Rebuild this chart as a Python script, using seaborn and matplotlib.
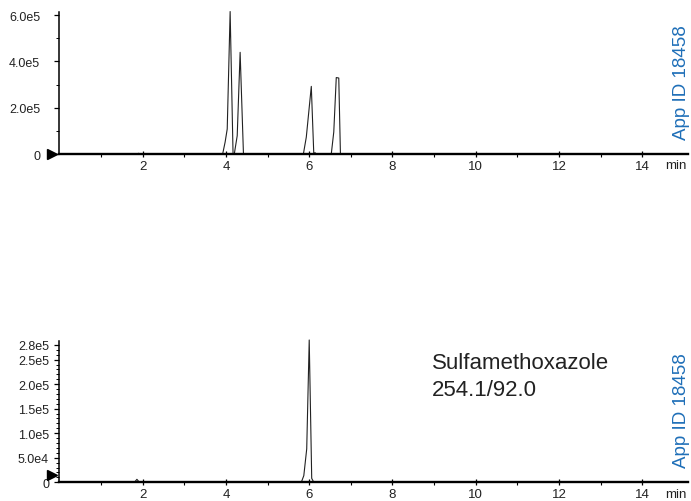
import numpy as np
import seaborn as sns
import matplotlib.pyplot as plt
from matplotlib.ticker import MultipleLocator, FixedLocator, FuncFormatter
from matplotlib import font_manager

# top panel: overlaid MRM traces (time in min, intensity in counts)
top_time = [0.0, 1.86, 1.90, 1.94, 3.92, 3.98, 4.03, 4.10, 4.17,
            4.20, 4.27, 4.34, 4.42, 5.86, 5.93, 6.05, 6.11,
            6.12, 6.14, 6.16, 6.53, 6.59, 6.65, 6.71, 6.75, 15.1]
top_intensity = [0, 0, 3000, 0, 0, 52000, 108000, 615000, 0,
                 0, 79000, 439000, 0, 0, 73000, 292000, 0,
                 0, 6000, 0, 0, 95000, 330000, 328000, 0, 0]

# bottom panel: Sulfamethoxazole 254.1/92.0
bot_time = [0.0, 1.80, 1.86, 1.92, 5.81, 5.87, 5.94, 6.00, 6.06, 6.11, 15.1]
bot_intensity = [0, 0, 6000, 0, 0, 13500, 68000, 290000, 8000, 0, 0]

top_yticks = [0, 2.0e5, 4.0e5, 6.0e5]
top_yticklabels = ['0', '2.0e5', '4.0e5', '6.0e5']
bot_yticks = [0, 5.0e4, 1.0e5, 1.5e5, 2.0e5, 2.5e5, 2.8e5]
bot_yticklabels = ['0', '5.0e4', '1.0e5', '1.5e5', '2.0e5', '2.5e5', '2.8e5']
xticks = [2, 4, 6, 8, 10, 12, 14]

top_marker_level = 0
bot_marker_level = 15000

compound = 'Sulfamethoxazole\n254.1/92.0'
app_id = 'App ID 18458'
blue = '#1f6fb8'

sns.set_theme(style='white')
names = {f.name for f in font_manager.fontManager.ttflist}
narrow = 'Liberation Sans Narrow' if 'Liberation Sans Narrow' in names else 'Liberation Sans'
plt.rcParams['font.family'] = ['Liberation Sans', 'DejaVu Sans']

fig = plt.figure(figsize=(6.91, 5.02), dpi=100)
ax_top = fig.add_axes([0.0861, 0.6912, 0.9095, 0.2829])
ax_bot = fig.add_axes([0.0861, 0.0373, 0.9095, 0.2815])


def style_axis(ax, yticks, ylabels, ymax, minor_step, ypad):
    ax.set_xlim(0, 15.1)
    ax.set_ylim(0, ymax)
    for s in ['top', 'right']:
        ax.spines[s].set_visible(False)
    for s in ['left', 'bottom']:
        ax.spines[s].set_color('black')
        ax.spines[s].set_linewidth(1.1)
    ax.spines['bottom'].set_linewidth(1.7)
    ax.xaxis.set_major_locator(FixedLocator(xticks))
    ax.xaxis.set_minor_locator(FixedLocator([1, 3, 5, 7, 9, 11, 13]))
    ax.xaxis.set_major_formatter(FuncFormatter(lambda v, p: f'{v:g}'))
    ax.yaxis.set_major_locator(FixedLocator(yticks))
    ax.set_yticklabels(ylabels)
    ax.yaxis.set_minor_locator(MultipleLocator(minor_step))
    ax.tick_params(axis='x', which='major', direction='inout', length=5, width=0.9,
                   color='black', labelsize=9.5, pad=1.5, bottom=True)
    ax.tick_params(axis='x', which='minor', direction='out', length=2.5, width=0.8,
                   color='black', bottom=True)
    ax.tick_params(axis='y', which='major', direction='out', length=3.5, width=0.9,
                   color='black', labelsize=9, pad=ypad, left=True)
    ax.tick_params(axis='y', which='minor', direction='out', length=2.5, width=0.7,
                   color='black', left=True)
    for lab in ax.get_xticklabels() + ax.get_yticklabels():
        lab.set_family([narrow, 'Liberation Sans', 'DejaVu Sans'])
        lab.set_color('#222222')
    ax.annotate('min', xy=(14.82, 0), xycoords=ax.get_xaxis_transform(),
                xytext=(0, -3.8), textcoords='offset points', ha='center', va='top',
                fontsize=9.5, color='#222222', family=[narrow, 'Liberation Sans'])
    ax.text(1.003, 0.105, app_id, transform=ax.transAxes, rotation=90, ha='right', va='bottom',
            fontsize=13.5, color=blue)


sns.lineplot(x=top_time, y=top_intensity, ax=ax_top, color='#222222', linewidth=0.8,
             sort=False, estimator=None, clip_on=False)
sns.lineplot(x=bot_time, y=bot_intensity, ax=ax_bot, color='#222222', linewidth=0.8,
             sort=False, estimator=None, clip_on=False)

style_axis(ax_top, top_yticks, top_yticklabels, 6.13e5, 1.0e5, 10.5)
style_axis(ax_bot, bot_yticks, bot_yticklabels, 2.88e5, 1.0e4, 4)

for ax, lvl in [(ax_top, top_marker_level), (ax_bot, bot_marker_level)]:
    ax.plot([-0.012], [lvl], marker='>', color='black', markersize=6.5,
            transform=ax.get_yaxis_transform(), clip_on=False)

ax_bot.text(0.593, 0.92, compound, transform=ax_bot.transAxes, ha='left', va='top',
            fontsize=16, color='#222222', linespacing=1.35)

fig.savefig('out.png', dpi=100)
